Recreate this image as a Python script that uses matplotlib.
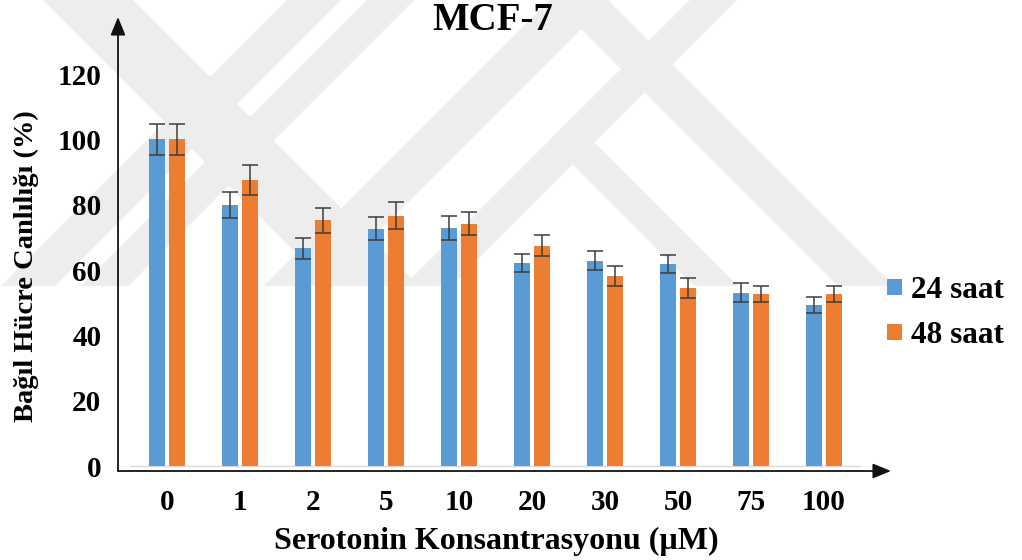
import matplotlib
matplotlib.use("Agg")
import matplotlib.pyplot as plt
from matplotlib.patches import Polygon, Rectangle
import numpy as np

plt.rcParams['font.family'] = ['Liberation Serif', 'DejaVu Serif']
plt.rcParams['font.weight'] = 'bold'

# Data
concentrations = ['0', '1', '2', '5', '10', '20', '30', '50', '75', '100']
viability_24h = [100, 80, 66.7, 72.7, 73.0, 62.2, 62.9, 61.8, 53.0, 49.3]
viability_48h = [100, 87.7, 75.3, 76.7, 74.2, 67.4, 58.2, 54.5, 52.7, 52.7]
sd_24h = [4.7, 4.0, 3.2, 3.6, 3.7, 2.8, 3.0, 2.8, 2.9, 2.5]
sd_48h = [4.7, 4.6, 3.8, 4.2, 3.6, 3.2, 3.1, 3.0, 2.5, 2.5]
series_labels = ['24 saat', '48 saat']
y_ticks = [0, 20, 40, 60, 80, 100, 120]

blue = '#5B9BD5'
orange = '#ED7D31'

W, H = 1022, 560
fig = plt.figure(figsize=(W / 100, H / 100), dpi=100)

# Light grey background emblem (pixel coordinates, y pointing down)
bg = fig.add_axes([0, 0, 1, 1], zorder=0)
bg.set_xlim(0, W)
bg.set_ylim(H, 0)
bg.axis('off')
emblem_grey = '#ededed'
clip = Rectangle((0, 0), W, 286, transform=bg.transData, visible=False)
bg.add_patch(clip)
bands = [
    [(43, 0), (133, 0), (419, 286), (329, 286)],
    [(287, 0), (341, 0), (55, 286), (1, 286)],
    [(367, 0), (414, 0), (128, 286), (81, 286)],
    [(550, 0), (610, 0), (324, 286), (264, 286)],
    [(552, 0), (608, 0), (894, 286), (838, 286)],
    [(690, 0), (737, 0), (451, 286), (404, 286)],
    [(549, 141), (571, 119), (738, 286), (694, 286)],
]
for pts in bands:
    p = Polygon(pts, closed=True, facecolor=emblem_grey, edgecolor='none')
    bg.add_patch(p)
    p.set_clip_path(clip)

# Main chart
left, right, bottom, top = 118, 891, 471, 17
ax = fig.add_axes([left / W, 1 - bottom / H, (right - left) / W, (bottom - top) / H], zorder=1)
ax.patch.set_alpha(0)

x = np.arange(len(concentrations))
bw = 0.22
off = 0.14
b1 = ax.bar(x - off, viability_24h, bw, color=blue, zorder=2, label=series_labels[0])
b2 = ax.bar(x + off, viability_48h, bw, color=orange, zorder=2, label=series_labels[1])
ax.errorbar(x - off, viability_24h, yerr=sd_24h, fmt='none', ecolor='#3d3d3d',
            elinewidth=1.1, capsize=6, capthick=1.1, zorder=3)
ax.errorbar(x + off, viability_48h, yerr=sd_48h, fmt='none', ecolor='#3d3d3d',
            elinewidth=1.1, capsize=6, capthick=1.1, zorder=3)

ax.set_xlim(-0.671, 9.918)
ax.set_ylim(-1.53, 137.5)
ax.axhline(0, xmin=0.016, xmax=0.96, color='#d9d9d9', lw=1, zorder=1)

for s in ax.spines.values():
    s.set_visible(False)
ax.set_xticks(x)
ax.set_xticklabels(concentrations)
ax.set_yticks(y_ticks)
ax.set_yticklabels([str(t) for t in y_ticks])
ax.tick_params(axis='both', length=0, labelsize=21)
ax.tick_params(axis='x', pad=13)
ax.tick_params(axis='y', pad=12)

arrow = dict(arrowstyle='-|>,head_length=1.1,head_width=0.45', color='#111111',
             lw=1.3, shrinkA=0, shrinkB=0)
ax.annotate('', xy=(0, 1), xytext=(0, 0), xycoords='axes fraction', arrowprops=arrow)
ax.annotate('', xy=(1, 0), xytext=(0, 0), xycoords='axes fraction', arrowprops=arrow)

fig.text(493 / W, 1 - 20 / H, 'MCF-7', ha='center', va='center', fontsize=28, fontweight='bold')
fig.text(496 / W, 1 - 541 / H, 'Serotonin Konsantrasyonu (µM)', ha='center', va='center',
         fontsize=23, fontweight='bold')
fig.text(26 / W, 1 - 266 / H, 'Bağıl Hücre Canlılığı (%)', ha='center', va='center',
         rotation=90, fontsize=20.5, fontweight='bold')

fig.legend(handles=[b1, b2], labels=series_labels, loc='center left',
           bbox_to_anchor=(887 / W, 1 - 313 / H), frameon=False, fontsize=22.5,
           handlelength=0.48, handleheight=0.42, handletextpad=0.3,
           labelspacing=0.5, borderpad=0, borderaxespad=0)

fig.savefig('out.png', dpi=100)
